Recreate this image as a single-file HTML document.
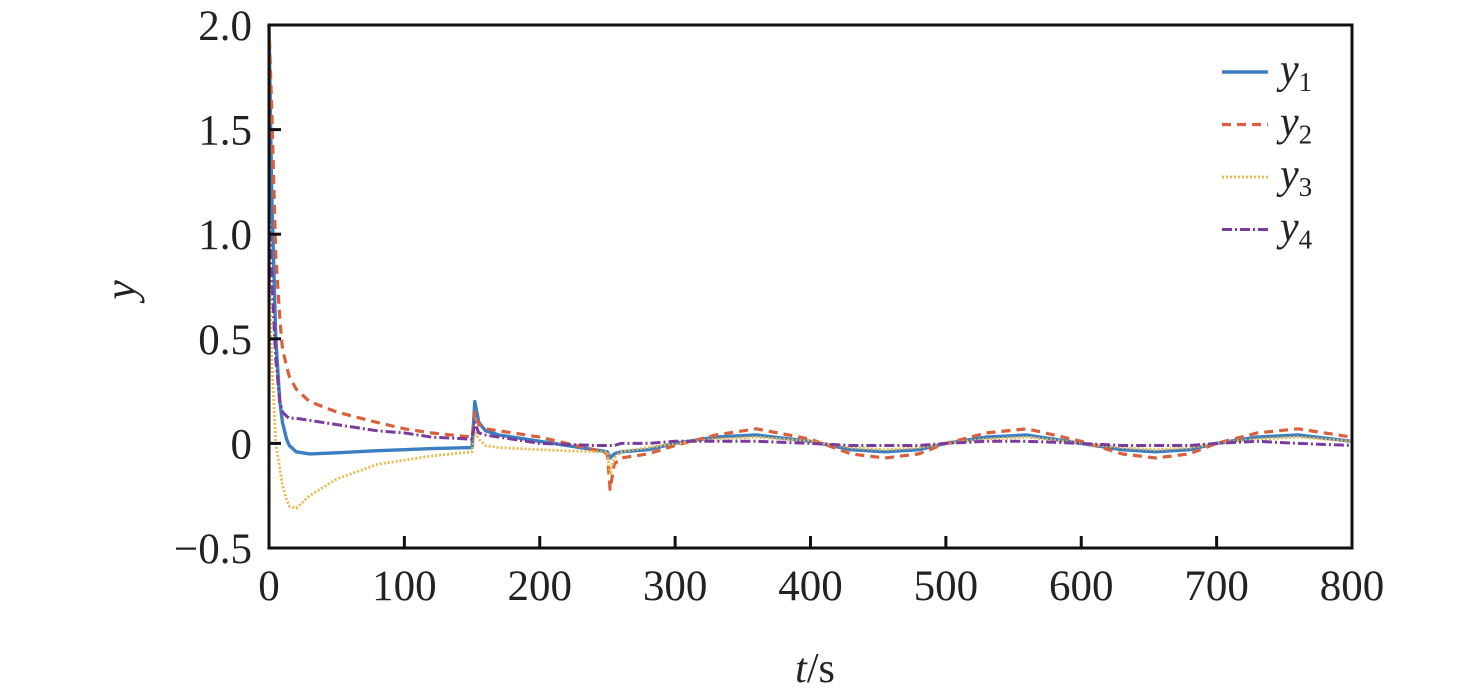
<!DOCTYPE html>
<html><head><meta charset="utf-8"><style>
body{margin:0;background:#fff;}
svg{display:block;font-family:"Liberation Serif",serif;}
</style></head><body>
<svg id="chart" width="1476" height="696">
<g id="marks"></g>
<g id="axes"></g>
<text x="815" y="682" font-size="42" text-anchor="middle" fill="#222"><tspan font-style="italic">t</tspan>/s</text>
<text x="135" y="290" font-size="44" font-style="italic" text-anchor="middle" fill="#222" transform="rotate(-90 135 290)">y</text>
<g id="legend"></g>
</svg>
<script>
const tVals=[0,2,5,8,10,13,15,20,30,50,80,100,120,150,152,155,160,170,200,240,250,252,255,260,280,300,330,360,400,430,455,480,500,530,560,600,630,655,680,700,730,760,800];
const y1=[2.0,1.2,0.5,0.2,0.1,0.02,-0.01,-0.04,-0.05,-0.045,-0.035,-0.03,-0.025,-0.02,0.2,0.1,0.06,0.04,0.01,-0.03,-0.04,-0.07,-0.05,-0.04,-0.03,0.0,0.03,0.04,0.01,-0.03,-0.04,-0.03,0.0,0.03,0.04,0.0,-0.03,-0.04,-0.03,0.0,0.03,0.04,0.01];
const y2=[2.0,1.6,0.9,0.6,0.45,0.37,0.32,0.26,0.2,0.15,0.1,0.07,0.05,0.03,0.15,0.09,0.07,0.06,0.03,-0.03,-0.05,-0.22,-0.1,-0.07,-0.05,-0.01,0.04,0.07,0.02,-0.05,-0.07,-0.05,0.0,0.05,0.07,0.01,-0.05,-0.07,-0.05,0.0,0.05,0.07,0.03];
const y3=[0.9,0.4,0.0,-0.12,-0.2,-0.27,-0.3,-0.31,-0.25,-0.17,-0.1,-0.08,-0.06,-0.04,0.06,0.02,-0.01,-0.02,-0.03,-0.04,-0.04,-0.15,-0.07,-0.04,-0.02,0.0,0.02,0.03,0.01,-0.02,-0.03,-0.02,0.0,0.02,0.03,0.0,-0.02,-0.03,-0.02,0.0,0.02,0.03,0.01];
const y4=[1.1,0.8,0.4,0.2,0.15,0.13,0.12,0.12,0.11,0.09,0.06,0.05,0.03,0.02,0.1,0.05,0.04,0.03,0.0,-0.01,-0.01,-0.01,-0.01,0.0,0.0,0.01,0.01,0.01,0.0,-0.01,-0.01,-0.01,0.0,0.01,0.01,0.0,-0.01,-0.01,-0.01,0.0,0.01,0.0,-0.01];
const xTicks=[0,100,200,300,400,500,600,700,800];
const yTicks=[-0.5,0,0.5,1.0,1.5,2.0];
const yTickLabels=["\u22120.5","0","0.5","1.0","1.5","2.0"];
const seriesNames=["1","2","3","4"];

const L=269,R=1352,T=25,B=548;
const X=v=>L+(v-0)/800*(R-L);
const Y=v=>B-(v+0.5)/2.5*(B-T);
const NS="http://www.w3.org/2000/svg";
function mk(tag,attrs,parent){const e=document.createElementNS(NS,tag);for(const k in attrs)e.setAttribute(k,attrs[k]);parent.appendChild(e);return e;}
const marks=document.getElementById('marks'),axes=document.getElementById('axes'),legend=document.getElementById('legend');
const styles=[
 {c:"#3b7fc2",d:"",w:3.4},
 {c:"#d9603b",d:"9 6",w:3.2},
 {c:"#e8b84a",d:"2 2",w:2.8},
 {c:"#7b3a9e",d:"10 3 2 3",w:3}];
const series=[y1,y2,y3,y4];
series.forEach((s,i)=>{
 const pts=s.map((v,j)=>X(tVals[j]).toFixed(1)+","+Y(v).toFixed(1)).join(" ");
 const p=mk('polyline',{points:pts,fill:"none",stroke:styles[i].c,"stroke-width":styles[i].w,"stroke-dasharray":styles[i].d,"stroke-linejoin":"round"},marks);
 
 
});
const fr=mk('rect',{x:L,y:T,width:R-L,height:B-T,fill:"none",stroke:"#111","stroke-width":3},axes);


xTicks.forEach(v=>{
 const x=X(v);
 const tk=mk('line',{x1:x,x2:x,y1:B,y2:B-12,stroke:"#111","stroke-width":3},axes);
 
 
 const tx=mk('text',{x:x,y:B+52,"font-size":43,"text-anchor":"middle",fill:"#222"},axes);
 tx.textContent=v;
 
 
});
yTicks.forEach((v,i)=>{
 const y=Y(v);
 const tk=mk('line',{x1:L,x2:L+12,y1:y,y2:y,stroke:"#111","stroke-width":3},axes);
 
 
 const tx=mk('text',{x:252,y:y+15,"font-size":43,"text-anchor":"end",fill:"#222"},axes);
 tx.textContent=yTickLabels[i];
 
 
});
seriesNames.forEach((n,i)=>{
 const y=72+i*52.5;
 const ln=mk('line',{x1:1222,x2:1268,y1:y,y2:y,stroke:styles[i].c,"stroke-width":styles[i].w,"stroke-dasharray":styles[i].d},legend);
 
 
 const tx=mk('text',{x:1280,y:y+11,"font-size":42,"font-style":"italic",fill:"#222"},legend);
 tx.innerHTML='y<tspan font-size="27" font-style="normal" dy="8">'+n+'</tspan>';
 
 
});
</script>
</body></html>
